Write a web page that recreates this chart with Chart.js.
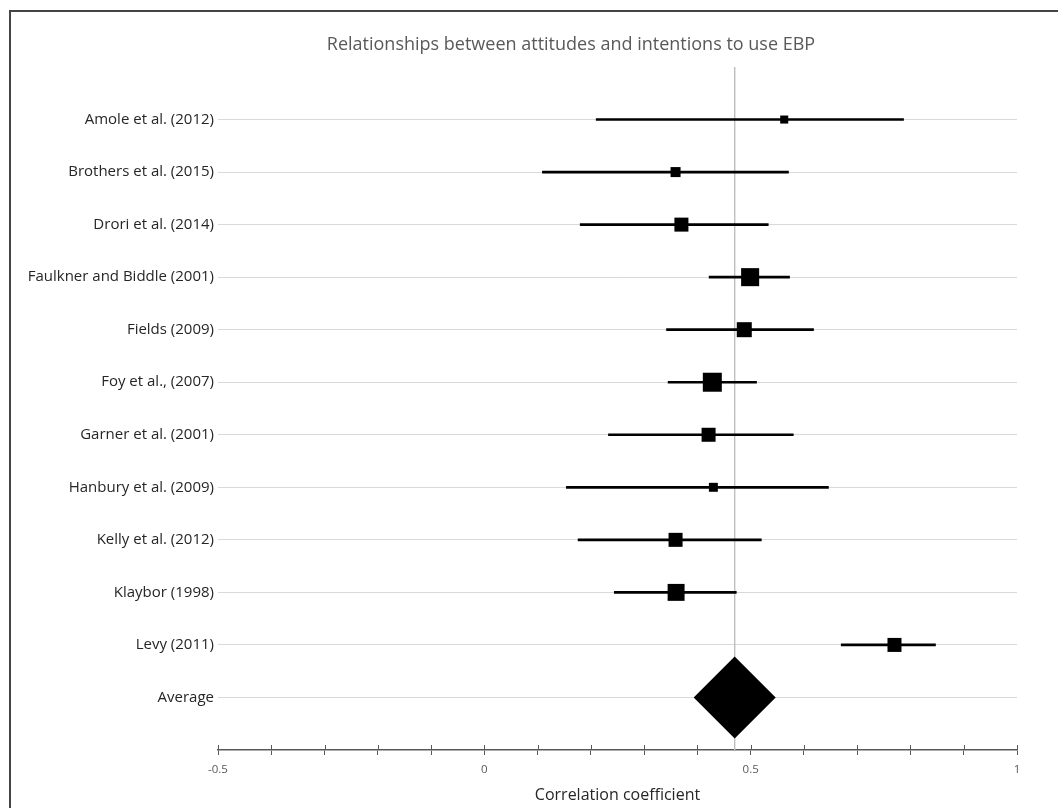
<!DOCTYPE html>
<html>
<head>
<meta charset="utf-8">
<script src="https://cdn.jsdelivr.net/npm/chart.js@4"></script>
<style>
  html, body { margin: 0; padding: 0; background: #fff; overflow: hidden; }
  .frame { position: absolute; left: 9px; top: 10px; right: -20px; bottom: -20px;
           border-left: 2px solid #454545; border-top: 2px solid #454545; }
  .wrap { position: absolute; left: 0; top: 0; width: 1142px; height: 808px; }
</style>
</head>
<body>
<div class="frame"></div>
<div class="wrap"><canvas id="forest"></canvas></div>
<script>
// forest plot data
const studies = [
  'Amole et al. (2012)', 'Brothers et al. (2015)', 'Drori et al. (2014)',
  'Faulkner and Biddle (2001)', 'Fields (2009)', 'Foy et al., (2007)',
  'Garner et al. (2001)', 'Hanbury et al. (2009)', 'Kelly et al. (2012)',
  'Klaybor (1998)', 'Levy (2011)',
];
const estimates = [0.563, 0.359, 0.370, 0.499, 0.488, 0.428, 0.421, 0.430, 0.359, 0.360, 0.770];
const lowerCI = [0.210, 0.109, 0.180, 0.422, 0.342, 0.345, 0.233, 0.154, 0.176, 0.244, 0.670];
const upperCI = [0.787, 0.571, 0.533, 0.573, 0.618, 0.511, 0.580, 0.646, 0.520, 0.473, 0.847];
const weights = [2.9, 4.5, 8.8, 14.6, 10.1, 16.2, 8.8, 3.6, 8.8, 12.9, 8.8];
const averageLabel = 'Average';
const averageValue = 0.47;

const rowLabels = [...studies, averageLabel];
const xMin = -0.5;
const xMax = 1;

// square side grows with sqrt(weight); 'rect' radius -> half side * sqrt2
const markerRadius = weights.map((w) => Math.sqrt(w) * 4.72 * Math.SQRT1_2);

// Excel-style ticks cross the axis line, chart.js only draws the outer half
const innerTicks = {
  id: 'innerTicks',
  afterDraw(chart) {
    const { ctx, chartArea, scales } = chart;
    const x = scales.x;
    ctx.save();
    ctx.strokeStyle = '#595959';
    ctx.lineWidth = 1;
    x.ticks.forEach((t) => {
      const px = Math.round(x.getPixelForValue(t.value)) + 0.5;
      ctx.beginPath();
      ctx.moveTo(px, chartArea.bottom - 5);
      ctx.lineTo(px, chartArea.bottom);
      ctx.stroke();
    });
    ctx.restore();
  },
};

new Chart(document.getElementById('forest'), {
  type: 'scatter',
  data: {
    datasets: [
      {
        type: 'line',
        label: 'reference',
        data: [{ x: averageValue, y: 0 }, { x: averageValue, y: rowLabels.length + 1 }],
        borderColor: '#bfbfbf',
        borderWidth: 1,
        pointRadius: 0,
        order: 4,
      },
      {
        type: 'bar',
        label: 'CI',
        indexAxis: 'y',
        data: studies.map((_, i) => ({ y: i + 1, x: [lowerCI[i], upperCI[i]] })),
        backgroundColor: '#000',
        borderWidth: 0,
        borderSkipped: false,
        barThickness: 2,
        order: 3,
      },
      {
        label: 'Estimate',
        data: studies.map((_, i) => ({ x: estimates[i], y: i + 1 })),
        pointStyle: 'rect',
        pointRadius: markerRadius,
        pointHoverRadius: markerRadius,
        backgroundColor: '#000',
        borderWidth: 0,
        order: 2,
      },
      {
        label: averageLabel,
        data: [{ x: averageValue, y: rowLabels.length }],
        pointStyle: 'rectRot',
        pointRadius: 41,
        pointHoverRadius: 41,
        backgroundColor: '#000',
        borderWidth: 0,
        order: 1,
      },
    ],
  },
  options: {
    responsive: true,
    maintainAspectRatio: false,
    animation: false,
    layout: { autoPadding: false, padding: 0 },
    plugins: {
      legend: { display: false },
      tooltip: { enabled: false },
      title: {
        display: true,
        text: 'Relationships between attitudes and intentions to use EBP',
        color: '#595959',
        font: { family: 'Open Sans', size: 18, weight: 'normal' },
        padding: { top: 34, bottom: 11.4 },
      },
    },
    scales: {
      x: {
        type: 'linear',
        position: 'bottom',
        min: xMin,
        max: xMax,
        border: { display: true, color: '#595959', width: 1.5 },
        grid: { drawOnChartArea: false, drawTicks: true, tickLength: 5, color: '#595959' },
        ticks: {
          stepSize: 0.1,
          autoSkip: false,
          maxRotation: 0,
          padding: 8,
          color: '#595959',
          font: { family: 'Open Sans', size: 11.5 },
          callback: (v) => (Math.abs(v * 2 - Math.round(v * 2)) < 1e-6 ? String(Math.round(v * 10) / 10) : ''),
        },
        title: {
          display: true,
          text: 'Correlation coefficient',
          color: '#262626',
          font: { family: 'Open Sans', size: 16 },
          padding: { top: 4, bottom: 3.4 },
        },
        afterFit: (scale) => { scale.height = 58; },
      },
      y: {
        type: 'linear',
        position: 'left',
        reverse: true,
        offset: false,
        min: 0,
        max: rowLabels.length + 1,
        afterBuildTicks: (scale) => {
          scale.ticks = rowLabels.map((_, i) => ({ value: i + 1 }));
        },
        border: { display: false },
        grid: { color: '#d9d9d9', drawTicks: false, offset: false },
        ticks: {
          padding: 4,
          color: '#262626',
          font: { family: 'Open Sans', size: 15 },
          callback: (v) => rowLabels[v - 1],
        },
        afterFit: (scale) => { scale.width = 218; },
      },
      // empty right-hand box so the title centres like the original
      spacer: {
        type: 'linear',
        position: 'right',
        display: true,
        border: { display: false },
        grid: { drawOnChartArea: false, drawTicks: false },
        ticks: { display: false },
        afterFit: (scale) => { scale.width = 125; },
      },
    },
  },
  plugins: [innerTicks],
});
</script>
</body>
</html>
